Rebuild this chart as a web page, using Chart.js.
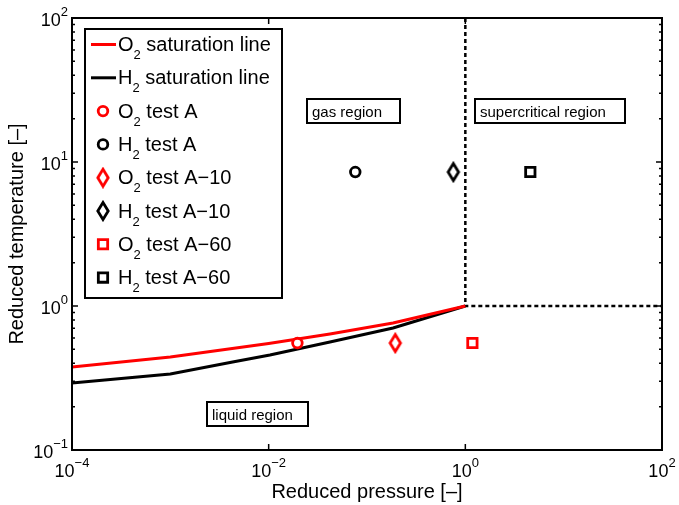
<!DOCTYPE html>
<html>
<head>
<meta charset="utf-8">
<title>Reduced pressure / reduced temperature</title>
<script src="https://cdn.jsdelivr.net/npm/chart.js@4.4.0/dist/chart.umd.min.js"></script>
<style>
  html, body { margin: 0; padding: 0; background: #fff; }
  canvas { display: block; }
</style>
</head>
<body>
<canvas id="myChart" width="679" height="505"></canvas>
<script>
// saturation lines: reduced pressure / reduced temperature
let o2SatP = [1e-4, 1e-3, 1e-2, 0.042, 0.184, 1];
let o2SatT = [0.377, 0.443, 0.549, 0.639, 0.762, 1];
let h2SatP = [1e-4, 1e-3, 0.0043, 0.0103, 0.042, 0.184, 1];
let h2SatT = [0.292, 0.337, 0.408, 0.457, 0.562, 0.703, 1];

// test cases A, A-10, A-60
let testNames = ['A', 'A\u221210', 'A\u221260'];
let o2TestP = [0.0196, 0.194, 1.18];
let o2TestT = [0.553, 0.553, 0.553];
let h2TestP = [0.076, 0.755, 4.58];
let h2TestT = [8.52, 8.52, 8.52];

// critical pressure / temperature boundaries
let critP = [1, 1, 100];
let critT = [100, 1, 1];

let xTicks = [1e-4, 1e-2, 1, 1e2];
let yTicks = [1e-1, 1, 1e1, 1e2];

const RED = '#ff0000';
const BLACK = '#000000';
const FONT = '"Liberation Sans", Arial, Helvetica, sans-serif';

function pts(xs, ys) {
    return xs.map((x, i) => ({ x: x, y: ys[i] }));
}

// tall diamond marker (the built-in rectRot is a square)
function diamond(color) {
    let c = document.createElement('canvas');
    c.width = 16;
    c.height = 22;
    let g = c.getContext('2d');
    g.beginPath();
    g.moveTo(8, 2.5);
    g.lineTo(13.2, 11);
    g.lineTo(8, 19.5);
    g.lineTo(2.8, 11);
    g.closePath();
    g.fillStyle = '#fff';
    g.fill();
    g.lineWidth = 2.8;
    g.strokeStyle = color;
    g.stroke();
    return c;
}

let markerStyles = [
    { pointStyle: 'circle', pointRadius: 4.8 },
    { pointStyle: diamond(RED), pointStyle2: diamond(BLACK), pointRadius: 8 },
    { pointStyle: 'rect', pointRadius: 6.6 }
];

let datasets = [
    { label: 'O_2 saturation line', data: pts(o2SatP, o2SatT), showLine: true,
      borderColor: RED, borderWidth: 3, pointRadius: 0, order: 1 },
    { label: 'H_2 saturation line', data: pts(h2SatP, h2SatT), showLine: true,
      borderColor: BLACK, borderWidth: 3, pointRadius: 0, order: 1 }
];

testNames.forEach((name, i) => {
    let m = markerStyles[i];
    datasets.push({
        label: 'O_2 test ' + name,
        data: [{ x: o2TestP[i], y: o2TestT[i] }],
        pointStyle: m.pointStyle, pointRadius: m.pointRadius,
        borderColor: RED, backgroundColor: '#fff', borderWidth: 2.8, order: 0
    });
    datasets.push({
        label: 'H_2 test ' + name,
        data: [{ x: h2TestP[i], y: h2TestT[i] }],
        pointStyle: m.pointStyle2 || m.pointStyle, pointRadius: m.pointRadius,
        borderColor: BLACK, backgroundColor: '#fff', borderWidth: 2.8, order: 0
    });
});

datasets.push({
    data: pts(critP, critT), showLine: true, borderColor: BLACK,
    borderWidth: 2.5, borderDash: [4, 3], pointRadius: 0, order: 2
});

// text boxes, anchored at left-middle in data coords
let regionNotes = [
    { text: 'gas region', p: 0.0245, t: 22.6, w: 93 },
    { text: 'supercritical region', p: 1.25, t: 22.6, w: 150 },
    { text: 'liquid region', p: 0.00236, t: 0.178, w: 101 }
];

// draws "O_2 ..." with the digit lowered as a subscript
function drawSub(ctx, text, x, y, size) {
    let parts = text.split(/_(\d)/);
    parts.forEach((s, i) => {
        let sub = i % 2 === 1;
        ctx.font = (sub ? Math.round(size * 0.65) : size) + 'px ' + FONT;
        ctx.fillText(s, x, sub ? y + 8 : y);
        x += ctx.measureText(s).width;
    });
}

// draws 10 with a raised exponent, x is the centre or right edge
function drawPow(ctx, value, x, y, align) {
    let base = '10';
    let exp = String(Math.round(Math.log10(value))).replace('-', '\u2212');
    ctx.font = '18px ' + FONT;
    let wb = ctx.measureText(base).width;
    ctx.font = '13px ' + FONT;
    let we = ctx.measureText(exp).width;
    let left = align === 'right' ? x - wb - we : x - (wb + we) / 2;
    ctx.textAlign = 'left';
    ctx.font = '18px ' + FONT;
    ctx.fillText(base, left, y);
    ctx.font = '13px ' + FONT;
    ctx.fillText(exp, left + wb, y - 10.5);
}

const decorations = {
    id: 'decorations',
    afterDatasetsDraw(chart) {
        let ctx = chart.ctx;
        let a = chart.chartArea;
        let xs = chart.scales.x;
        let ys = chart.scales.y;
        ctx.save();
        ctx.fillStyle = BLACK;
        ctx.strokeStyle = BLACK;
        ctx.textBaseline = 'alphabetic';

        // region labels
        regionNotes.forEach(n => {
            let x = Math.round(xs.getPixelForValue(n.p));
            let y = Math.round(ys.getPixelForValue(n.t));
            ctx.fillStyle = '#fff';
            ctx.fillRect(x, y - 12, n.w, 24);
            ctx.lineWidth = 2;
            ctx.strokeRect(x, y - 12, n.w, 24);
            ctx.fillStyle = BLACK;
            ctx.font = '15px ' + FONT;
            ctx.textAlign = 'left';
            ctx.fillText(n.text, x + 5, y + 6);
        });

        // frame and ticks
        ctx.lineWidth = 2;
        ctx.strokeRect(a.left, a.top, a.right - a.left, a.bottom - a.top);
        ctx.lineWidth = 1.5;
        ctx.beginPath();
        for (let d = -1; d < 2; d++) {
            for (let k = 2; k < 10; k++) {
                let y = ys.getPixelForValue(k * Math.pow(10, d));
                ctx.moveTo(a.left, y); ctx.lineTo(a.left + 3, y);
                ctx.moveTo(a.right, y); ctx.lineTo(a.right - 3, y);
            }
        }
        yTicks.forEach(v => {
            let y = ys.getPixelForValue(v);
            ctx.moveTo(a.left, y); ctx.lineTo(a.left + 6, y);
            ctx.moveTo(a.right, y); ctx.lineTo(a.right - 6, y);
        });
        xTicks.forEach(v => {
            let x = xs.getPixelForValue(v);
            ctx.moveTo(x, a.bottom); ctx.lineTo(x, a.bottom - 6);
            ctx.moveTo(x, a.top); ctx.lineTo(x, a.top + 6);
        });
        ctx.stroke();

        // tick labels
        yTicks.forEach(v => drawPow(ctx, v, a.left - 4, ys.getPixelForValue(v) + 8, 'right'));
        xTicks.forEach(v => drawPow(ctx, v, xs.getPixelForValue(v), a.bottom + 27, 'center'));

        // axis titles
        ctx.font = '20px ' + FONT;
        ctx.textAlign = 'center';
        ctx.fillText('Reduced pressure [\u2013]', (a.left + a.right) / 2, 498);
        ctx.save();
        ctx.translate(23, (a.top + a.bottom) / 2);
        ctx.rotate(-Math.PI / 2);
        ctx.fillText('Reduced temperature [\u2013]', 0, 0);
        ctx.restore();

        // legend
        ctx.fillStyle = '#fff';
        ctx.fillRect(85, 29, 197, 269);
        ctx.lineWidth = 2;
        ctx.strokeRect(85, 29, 197, 269);
        ctx.textAlign = 'left';
        chart.data.datasets.filter(d => d.label).forEach((d, i) => {
            let base = 51 + i * 33.3;
            let mid = base - 6.5;
            if (d.showLine) {
                ctx.strokeStyle = d.borderColor;
                ctx.lineWidth = d.borderWidth;
                ctx.beginPath();
                ctx.moveTo(91, mid);
                ctx.lineTo(116, mid);
                ctx.stroke();
            } else {
                ctx.strokeStyle = d.borderColor;
                ctx.fillStyle = d.backgroundColor;
                ctx.lineWidth = d.borderWidth;
                Chart.helpers.drawPoint(ctx, {
                    pointStyle: d.pointStyle, radius: d.pointRadius,
                    rotation: 0, borderWidth: d.borderWidth
                }, 103, mid);
            }
            ctx.fillStyle = BLACK;
            drawSub(ctx, d.label, 118, base, 20);
        });
        ctx.restore();
    }
};

let chart1 = new Chart(document.getElementById('myChart').getContext('2d'), {
    type: 'scatter',
    data: { datasets: datasets },
    options: {
        responsive: false,
        animation: false,
        devicePixelRatio: 1,
        layout: { padding: { left: 72, right: 17, top: 18, bottom: 55 } },
        scales: {
            x: { type: 'logarithmic', min: 1e-4, max: 1e2, display: false },
            y: { type: 'logarithmic', min: 1e-1, max: 1e2, display: false }
        },
        plugins: {
            legend: { display: false },
            tooltip: { enabled: false }
        }
    },
    plugins: [decorations]
});
</script>
</body>
</html>
